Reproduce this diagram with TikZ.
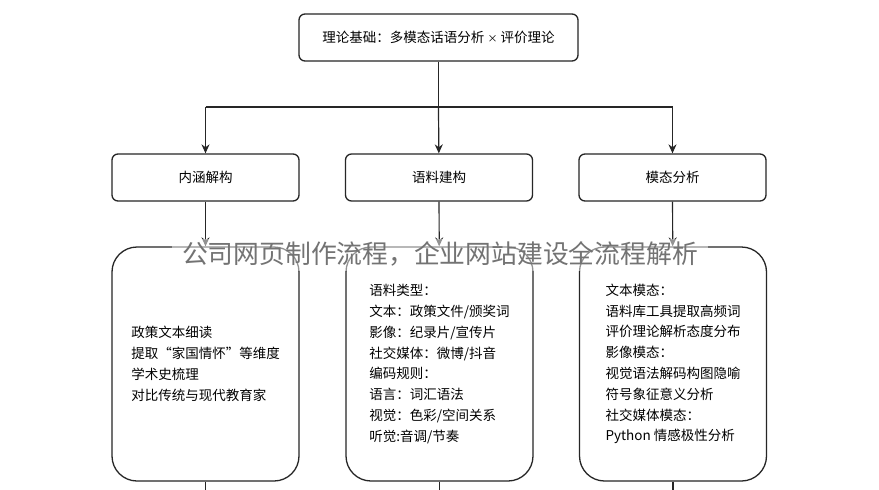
\documentclass[tikz,border=0pt]{standalone}
\usepackage{fontspec}
\newfontfamily\cjk{Noto Sans CJK SC}
\usetikzlibrary{arrows.meta,positioning,calc}

\begin{document}
\begin{tikzpicture}[x=1pt,y=-1pt,
  box/.style={draw=black!85,line width=1.3pt,rounded corners=6pt,inner sep=0pt,
    minimum width=187pt,minimum height=47pt,font=\cjk\fontsize{13.5}{16}\selectfont},
  tallbox/.style={draw=black!85,line width=1.3pt,rounded corners=25pt,inner sep=0pt,
    minimum width=187pt,minimum height=234pt,align=left,
    font=\cjk\fontsize{13.5}{20.8}\selectfont},
  link/.style={line width=1.2pt,black!85},
  arr/.style={link,-{Stealth[length=9pt,width=8pt]}}]
\useasboundingbox (0,0) rectangle (879,490);
\fill[white] (0,0) rectangle (879,490);
%top box
\node[box,minimum width=279pt] (base) at (438.5,37.5) {理论基础：多模态话语分析 {\fontsize{10}{12}\selectfont ×} 评价理论};
%three steps
\node[box] (neihan) at (205.5,177.5) {内涵解构};
\node[box] (yuliao) at (439,177.5) {语料建构};
\node[box] (motai) at (672.5,177.5) {模态分析};
%details
\node[tallbox] (neihanD) at (205.5,364) {政策文本细读\\提取“家国情怀”等维度\\学术史梳理\\对比传统与现代教育家};
\node[tallbox] (yuliaoD) at (439.5,364) {语料类型：\\文本：政策文件/颁奖词\\影像：纪录片/宣传片\\社交媒体：微博/抖音\\编码规则：\\语言：词汇语法\\视觉：色彩/空间关系\\听觉:音调/节奏};
\node[tallbox] (motaiD) at (673,364) {文本模态：\\语料库工具提取高频词\\评价理论解析态度分布\\影像模态：\\视觉语法解码构图隐喻\\符号象征意义分析\\社交媒体模态：\\Python 情感极性分析};
\coordinate (bar) at (438.5,107);
\coordinate (j1) at (neihan |- bar);
\coordinate (j3) at (motai |- bar);
\draw[link] (base) -- (bar);
\draw[link] (j1) -- (j3);
\draw[arr] (j1) -- (neihan);
\draw[arr] (bar) -- (yuliao);
\draw[arr] (j3) -- (motai);
\draw[arr] (neihan) -- (neihanD);
\draw[arr] (yuliao) -- (yuliaoD);
\draw[arr] (motai) -- (motaiD);
%leads on past the edge
\coordinate (e1) at (neihanD.south |- 0,490);
\coordinate (e2) at (yuliaoD.south |- 0,490);
\coordinate (e3) at (motaiD.south |- 0,490);
\draw[link] (neihanD) -- (e1);
\draw[link] (yuliaoD) -- (e2);
\draw[link] (motaiD) -- (e3);
%overlay text
\fill[white,opacity=0.5] (172,239) rectangle (708,271);
\node[font=\cjk\fontsize{25.8}{28}\selectfont,text=black!55,inner sep=0pt] (wm) at (440,254) {公司网页制作流程，企业网站建设全流程解析};
\end{tikzpicture}
\end{document}
